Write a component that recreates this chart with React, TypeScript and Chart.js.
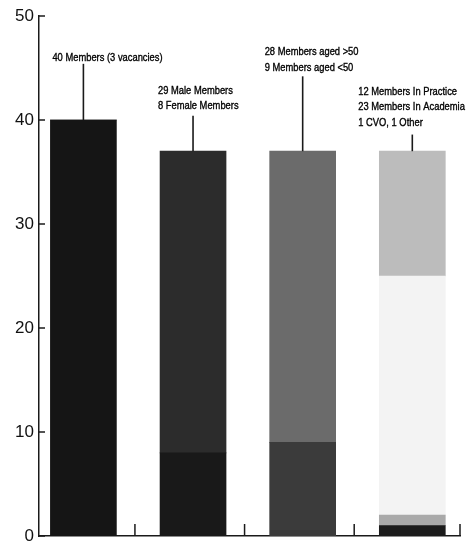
import React, { useEffect, useRef } from "react";
import { Chart, registerables } from "chart.js";

Chart.register(...registerables);

// Categories (bars) — no visible axis labels in the reference
const categories = ["Total", "Gender", "Age", "Occupation"];

// Stacked segments, bottom to top
const segBottom = [40, 8, 9, 1]; // members / female / aged <50 / CVO
const segSecond = [0, 29, 28, 1]; // — / male / aged >50 / other
const segThird = [0, 0, 0, 23]; // academia
const segTop = [0, 0, 0, 12]; // practice

const yTickValues = [0, 10, 20, 30, 40, 50];

// Colours per segment per bar
const colBottom = ["#151515", "#191919", "#3b3b3b", "#1b1b1b"];
const colSecond = ["#151515", "#2c2c2c", "#6b6b6b", "#a9a9a9"];
const colThird = ["#ffffff", "#ffffff", "#ffffff", "#f3f3f3"];
const colTop = ["#ffffff", "#ffffff", "#ffffff", "#bcbcbc"];

// Annotation texts
const noteLines = [
  ["40 Members (3 vacancies)"],
  ["29 Male Members", "8 Female Members"],
  ["28 Members aged >50", "9 Members aged <50"],
  ["12 Members In Practice", "23 Members In Academia", "1 CVO, 1 Other"],
];
// text top (value units), leader line top (value units), text x-offset (px)
const noteTextTop = [46.0, 42.8, 46.5, 42.7];
const noteLineTop = [45.4, 40.4, 44.2, 38.6];
const noteDx = [-31, -35, -38, -54];

const layers = [segBottom, segSecond, segThird, segTop];
const layerColors = [colBottom, colSecond, colThird, colTop];

const overlayPlugin = {
  id: "overlay",
  afterDatasetsDraw(chart: any) {
    const { ctx, chartArea } = chart;
    const x = chart.scales.x;
    const y = chart.scales.y;
    ctx.save();
    ctx.strokeStyle = "#1a1a1a";
    ctx.lineWidth = 1.5;
    // inward y ticks
    yTickValues.forEach((v) => {
      const py = y.getPixelForValue(v);
      ctx.beginPath();
      ctx.moveTo(chartArea.left, py);
      ctx.lineTo(chartArea.left + 6, py);
      ctx.stroke();
    });
    // upward divider ticks on x axis
    categories.forEach((_, i) => {
      const px =
        i < categories.length - 1 ? x.getPixelForValue(i + 0.47) : chartArea.right;
      ctx.beginPath();
      ctx.moveTo(px, chartArea.bottom);
      ctx.lineTo(px, chartArea.bottom - 12);
      ctx.stroke();
    });
    // annotations
    categories.forEach((_, i) => {
      const cx = x.getPixelForValue(i);
      const total = layers.reduce((s, l) => s + l[i], 0);
      ctx.lineWidth = 1.6;
      ctx.beginPath();
      ctx.moveTo(cx, y.getPixelForValue(total));
      ctx.lineTo(cx, y.getPixelForValue(noteLineTop[i]));
      ctx.stroke();
      ctx.font = "11px 'Liberation Sans', Arial, sans-serif";
      ctx.fillStyle = "#000";
      ctx.strokeStyle = "#000";
      ctx.lineWidth = 0.35;
      ctx.textBaseline = "middle";
      ctx.textAlign = "left";
      noteLines[i].forEach((t, k) => {
        const ty = y.getPixelForValue(noteTextTop[i]) + k * 15.5;
        ctx.save();
        ctx.translate(cx + noteDx[i], ty);
        ctx.scale(0.85, 1);
        ctx.fillText(t, 0, 0);
        ctx.strokeText(t, 0, 0);
        ctx.restore();
      });
      ctx.strokeStyle = "#1a1a1a";
    });
    ctx.restore();
  },
};

export default function App() {
  const ref = useRef<HTMLCanvasElement | null>(null);
  useEffect(() => {
    if (!ref.current) return;
    const chart = new Chart(ref.current, {
      type: "bar",
      data: {
        datasets: layers.map((layer, li) => ({
          label: "layer" + li,
          data: categories.map((_, i) => ({ x: i, y: layer[i] })),
          backgroundColor: layerColors[li],
          borderWidth: 0,
          barThickness: 66,
        })),
      },
      options: {
        responsive: true,
        maintainAspectRatio: false,
        animation: false,
        layout: { padding: { top: 16, right: 12, bottom: 6, left: 0 } },
        plugins: { legend: { display: false }, tooltip: { enabled: false } },
        scales: {
          x: {
            type: "linear",
            stacked: true,
            min: -0.405,
            max: 3.435,
            offset: false,
            ticks: { display: false },
            grid: { display: false },
            border: { display: true, color: "#1a1a1a", width: 1.5 },
            afterFit(scale: any) {
              scale.height = 0;
            },
          },
          y: {
            stacked: true,
            min: 0,
            max: 50,
            ticks: {
              stepSize: 10,
              color: "#111",
              padding: 5,
              font: { family: "'Liberation Sans', Arial, sans-serif", size: 17 },
            },
            grid: { display: false, drawTicks: false },
            border: { display: true, color: "#1a1a1a", width: 1.5 },
            afterFit(scale: any) {
              scale.width = 39;
              scale.paddingTop = 0;
              scale.paddingBottom = 0;
            },
          },
        },
      },
      plugins: [overlayPlugin],
    });
    return () => chart.destroy();
  }, []);
  return (
    <div style={{ position: "absolute", left: 0, top: 0, width: 472, height: 542 }}>
      <canvas ref={ref} />
    </div>
  );
}
